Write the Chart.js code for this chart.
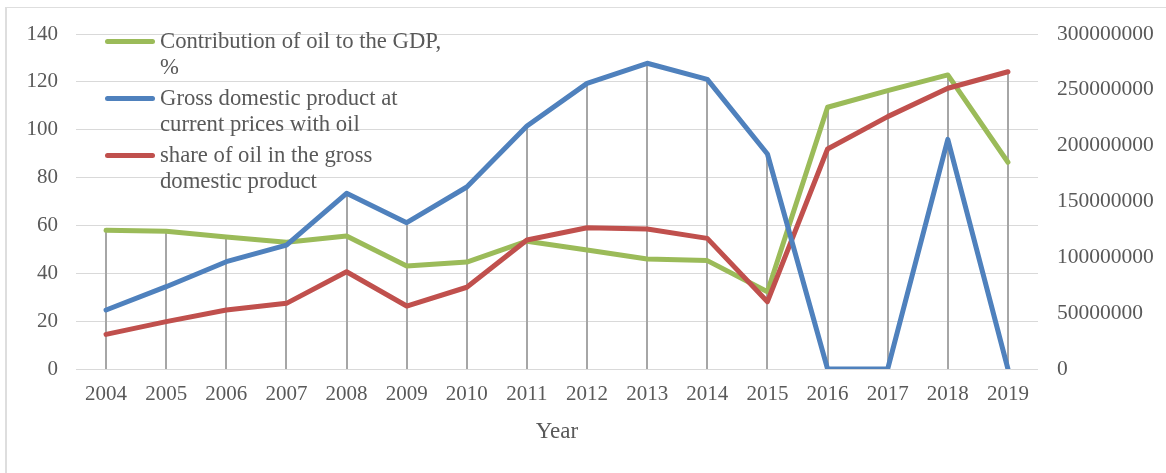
<!DOCTYPE html>
<html>
<head>
<meta charset="utf-8">
<script src="https://cdn.jsdelivr.net/npm/chart.js@4"></script>
<style>
    body { margin: 0; background: #fff; overflow: hidden; }
    #wrap { position: relative; width: 1166px; height: 473px; }
    #frame {
        position: absolute; left: 5px; top: 7px; width: 1200px; height: 500px;
        border-left: 2px solid #dedede; border-top: 1px solid #dedede;
    }
    #legend {
        position: absolute; left: 105px; top: 28px;
        font-family: 'Liberation Serif', 'Times New Roman', serif;
        font-size: 22.7px; color: #595959; line-height: 26px;
    }
    .item { position: relative; padding-left: 55px; height: 57px; }
    .swatch { position: absolute; left: 0; top: 11px; width: 50px; height: 5px; border-radius: 3px; }
</style>
</head>
<body>
<div id="wrap">
    <div id="frame"></div>
    <canvas id="chart" width="1166" height="473"></canvas>
    <div id="legend"></div>
</div>
<script>
// Chart data
const years = ['2004', '2005', '2006', '2007', '2008', '2009', '2010', '2011',
               '2012', '2013', '2014', '2015', '2016', '2017', '2018', '2019'];
const oilContribution = [58, 57.6, 55.2, 53, 55.6, 43, 44.7, 53.4,
                         49.7, 46, 45.3, 32.3, 109.4, 116.3, 122.9, 86.4];
const gdpWithOil = [52800000, 73700000, 96100000, 111000000, 157300000, 131000000, 163000000, 217600000,
                    255800000, 273800000, 259400000, 192500000, 0, 0, 205700000, 0];
const oilShare = [31000000, 42400000, 52800000, 58800000, 87100000, 56400000, 73200000, 115500000,
                  126500000, 125400000, 117000000, 60300000, 197000000, 226000000, 251400000, 266200000];
const seriesLabels = [
    ['Contribution of oil to the GDP,', '%'],
    ['Gross domestic product at', 'current prices with oil'],
    ['share of oil in the gross', 'domestic product']
];
const seriesColors = ['#9BBB59', '#4F81BD', '#C0504D'];

const textGray = '#595959';
const serif = "'Liberation Serif', 'Times New Roman', serif";

// Excel style drop lines: vertical line from every point down to the category axis
const dropLines = {
    id: 'dropLines',
    beforeDatasetsDraw(chart) {
        const ctx = chart.ctx;
        const bottom = chart.chartArea.bottom;
        ctx.save();
        ctx.strokeStyle = '#a6a6a6';
        ctx.lineWidth = 2;
        chart.data.datasets.forEach((ds, i) => {
            chart.getDatasetMeta(i).data.forEach(pt => {
                ctx.beginPath();
                ctx.moveTo(Math.round(pt.x), pt.y);
                ctx.lineTo(Math.round(pt.x), bottom);
                ctx.stroke();
            });
        });
        ctx.restore();
    }
};

const ctx = document.getElementById('chart').getContext('2d');
const chart = new Chart(ctx, {
    type: 'line',
    data: {
        labels: years,
        datasets: [
            { label: seriesLabels[0].join(' '), data: oilContribution, yAxisID: 'y',
              borderColor: seriesColors[0], order: 2 },
            { label: seriesLabels[1].join(' '), data: gdpWithOil, yAxisID: 'y1',
              borderColor: seriesColors[1], order: 0 },
            { label: seriesLabels[2].join(' '), data: oilShare, yAxisID: 'y1',
              borderColor: seriesColors[2], order: 1 }
        ]
    },
    options: {
        responsive: false,
        animation: false,
        elements: {
            line: { borderWidth: 5, tension: 0, borderJoinStyle: 'round', borderCapStyle: 'round' },
            point: { radius: 0 }
        },
        layout: { padding: { top: 34, left: 0, right: 0, bottom: 27 } },
        scales: {
            x: {
                offset: true,
                grid: { display: false, drawTicks: false },
                border: { display: false },
                ticks: { color: textGray, padding: 13, maxRotation: 0, autoSkip: false,
                         font: { family: serif, size: 21 } },
                title: { display: true, text: 'Year', color: textGray, padding: { top: 0, bottom: 0 },
                         font: { family: serif, size: 23 } },
                afterFit(scale) { scale.height = 77; }
            },
            y: {
                position: 'left',
                min: 0, max: 140,
                ticks: { stepSize: 20, color: textGray, padding: 18,
                         font: { family: serif, size: 21 } },
                grid: { color: '#d9d9d9', lineWidth: 1, drawTicks: false },
                border: { display: false },
                afterFit(scale) { scale.width = 76; }
            },
            y1: {
                position: 'right',
                min: 0, max: 300000000,
                ticks: { stepSize: 50000000, color: textGray, padding: 19,
                         font: { family: serif, size: 21.5 },
                         callback: v => String(v) },
                grid: { display: false, drawTicks: false },
                border: { display: false },
                afterFit(scale) { scale.width = 128; }
            }
        },
        plugins: {
            legend: { display: false },
            tooltip: { enabled: false }
        }
    },
    plugins: [dropLines]
});

// Legend drawn as html over the plot, lines wrap like the original
const legend = document.getElementById('legend');
seriesLabels.forEach((lines, i) => {
    const item = document.createElement('div');
    item.className = 'item';
    const sw = document.createElement('div');
    sw.className = 'swatch';
    sw.style.background = seriesColors[i];
    item.appendChild(sw);
    lines.forEach(t => {
        const d = document.createElement('div');
        d.textContent = t;
        item.appendChild(d);
    });
    legend.appendChild(item);
});
</script>
</body>
</html>
